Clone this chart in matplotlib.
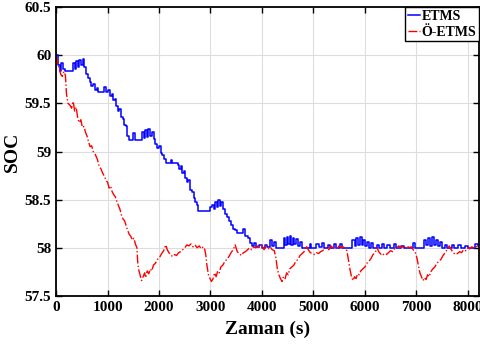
import matplotlib
matplotlib.use('Agg')
import matplotlib.pyplot as plt

plt.rcParams['font.family'] = ['Liberation Serif', 'DejaVu Serif']
plt.rcParams['font.weight'] = 'bold'

# ETMS (blue)
t_etms = [0, 40, 70, 100, 140, 180, 300, 330, 360, 390, 420, 450, 490, 520, 550, 580, 620, 650, 680, 720,
          750, 790, 820, 900, 930, 960, 1000, 1040, 1080, 1110, 1140, 1170, 1200, 1230, 1260, 1290, 1320, 1350, 1380, 1420,
          1470, 1500, 1540, 1640, 1670, 1700, 1730, 1760, 1790, 1820, 1860, 1900, 1930, 1960, 2000, 2030, 2060, 2090, 2130, 2200,
          2230, 2260, 2330, 2360, 2390, 2420, 2450, 2480, 2510, 2540, 2570, 2600, 2640, 2670, 2700, 2730, 2760, 2960, 2990, 3030,
          3060, 3090, 3120, 3150, 3180, 3210, 3240, 3280, 3320, 3360, 3400, 3440, 3480, 3520, 3600, 3640, 3680, 3720, 3760, 3800,
          3850, 3880, 3950, 4000, 4050, 4100, 4160, 4200, 4230, 4270, 4400, 4420, 4450, 4480, 4510, 4540, 4570, 4600, 4630, 4670,
          4700, 4740, 4780, 4900, 4930, 4960, 5030, 5060, 5100, 5160, 5200, 5280, 5320, 5400, 5440, 5520, 5560, 5720, 5760, 5800,
          5830, 5860, 5900, 5940, 5970, 6000, 6040, 6080, 6120, 6160, 6230, 6270, 6330, 6370, 6440, 6480, 6560, 6600, 6700, 6760,
          6900, 6940, 6980, 7100, 7150, 7190, 7220, 7260, 7300, 7340, 7380, 7420, 7460, 7500, 7560, 7600, 7700, 7740, 7820, 7860,
          7950, 8000, 8100, 8150, 8200, 8230]
soc_etms = [60.0, 59.9, 59.84, 59.92, 59.86, 59.84, 59.84, 59.92, 59.86, 59.94, 59.88, 59.95, 59.9, 59.96, 59.88, 59.8, 59.76, 59.72, 59.68, 59.7,
            59.64, 59.66, 59.62, 59.62, 59.67, 59.62, 59.64, 59.58, 59.6, 59.53, 59.55, 59.47, 59.42, 59.44, 59.36, 59.34, 59.28, 59.26, 59.16, 59.12,
            59.12, 59.19, 59.12, 59.12, 59.2, 59.14, 59.22, 59.15, 59.23, 59.16, 59.2, 59.13, 59.08, 59.04, 59.06, 58.98, 58.96, 58.92, 58.88, 58.88,
            58.91, 58.88, 58.88, 58.86, 58.82, 58.85, 58.78, 58.8, 58.73, 58.68, 58.7, 58.6, 58.58, 58.52, 58.48, 58.44, 58.38, 58.38, 58.42, 58.44,
            58.4, 58.48, 58.42, 58.5, 58.43, 58.48, 58.4, 58.35, 58.32, 58.28, 58.24, 58.2, 58.18, 58.15, 58.15, 58.2, 58.12, 58.1, 58.05, 58.02,
            58.05, 58.01, 58.03, 58.0, 58.03, 58.01, 58.08, 58.02, 58.06, 58.0, 58.0, 58.1, 58.03, 58.11, 58.04, 58.12, 58.03, 58.1, 58.04, 58.09,
            58.02, 58.06, 58.0, 58.0, 58.04, 58.0, 58.0, 58.04, 58.01, 58.05, 58.0, 58.03, 58.0, 58.04, 58.0, 58.04, 58.0, 58.0, 58.08, 58.02,
            58.1, 58.03, 58.11, 58.03, 58.08, 58.02, 58.06, 58.0, 58.05, 58.0, 58.03, 58.0, 58.04, 58.0, 58.03, 58.0, 58.04, 58.0, 58.02, 58.0,
            58.0, 58.05, 58.0, 58.0, 58.08, 58.03, 58.1, 58.02, 58.11, 58.03, 58.08, 58.02, 58.06, 58.0, 58.03, 58.0, 58.03, 58.0, 58.03, 58.0,
            58.02, 58.0, 58.0, 58.04, 58.02, 58.04]

# Ö-ETMS (red)
t_oetms = [0, 30, 60, 90, 120, 150, 180, 200, 230, 270, 300, 330, 360, 390, 420, 450, 480, 510, 540, 570,
           600, 630, 660, 690, 720, 760, 800, 840, 870, 900, 940, 970, 1000, 1030, 1060, 1090, 1120, 1150, 1180, 1210,
           1240, 1270, 1300, 1330, 1360, 1390, 1420, 1450, 1480, 1510, 1540, 1570, 1585, 1600, 1630, 1660, 1690, 1720, 1740, 1770,
           1800, 1830, 1860, 1890, 1930, 1970, 2010, 2050, 2090, 2130, 2160, 2190, 2220, 2260, 2300, 2340, 2380, 2420, 2460, 2500,
           2540, 2580, 2620, 2660, 2700, 2740, 2780, 2820, 2860, 2890, 2910, 2930, 2960, 2990, 3020, 3050, 3080, 3110, 3140, 3170,
           3200, 3240, 3280, 3320, 3360, 3400, 3440, 3480, 3520, 3560, 3600, 3640, 3680, 3720, 3760, 3800, 3840, 3880, 3920, 3960,
           4000, 4040, 4080, 4120, 4160, 4200, 4240, 4270, 4300, 4330, 4360, 4390, 4420, 4450, 4480, 4510, 4540, 4580, 4620, 4660,
           4700, 4740, 4780, 4820, 4860, 4900, 4940, 4980, 5020, 5060, 5100, 5140, 5180, 5220, 5260, 5300, 5340, 5380, 5420, 5460,
           5500, 5540, 5580, 5620, 5650, 5680, 5710, 5740, 5770, 5800, 5830, 5860, 5890, 5920, 5960, 6000, 6040, 6080, 6120, 6160,
           6200, 6240, 6270, 6300, 6340, 6380, 6420, 6460, 6500, 6540, 6580, 6620, 6660, 6700, 6740, 6780, 6820, 6860, 6900, 6940,
           6980, 7010, 7040, 7070, 7100, 7130, 7160, 7190, 7220, 7250, 7280, 7320, 7360, 7400, 7440, 7480, 7520, 7560, 7600, 7640,
           7680, 7720, 7760, 7800, 7840, 7880, 7920, 7960, 8000, 8040, 8080, 8120, 8160, 8200, 8230]
soc_oetms = [60.0, 59.92, 59.86, 59.8, 59.78, 59.83, 59.79, 59.6, 59.5, 59.48, 59.45, 59.52, 59.42, 59.46, 59.34, 59.3, 59.33, 59.25, 59.26, 59.2,
             59.16, 59.1, 59.05, 59.06, 59.0, 58.97, 58.92, 58.84, 58.82, 58.78, 58.74, 58.7, 58.68, 58.62, 58.64, 58.58, 58.55, 58.53, 58.48, 58.44,
             58.4, 58.34, 58.3, 58.28, 58.23, 58.18, 58.14, 58.12, 58.08, 58.1, 58.04, 58.0, 57.85, 57.78, 57.72, 57.66, 57.7, 57.74, 57.69, 57.76,
             57.73, 57.78, 57.76, 57.82, 57.84, 57.88, 57.9, 57.94, 57.97, 58.03, 57.98, 57.95, 57.93, 57.91, 57.93, 57.92, 57.95, 57.96, 57.98, 58.0,
             58.03, 58.02, 58.04, 58.01, 58.03, 58.0, 58.02, 57.99, 58.01, 57.98, 57.92, 57.82, 57.72, 57.68, 57.65, 57.68, 57.74, 57.7, 57.76, 57.74,
             57.8, 57.82, 57.86, 57.88, 57.91, 57.95, 57.98, 58.03, 57.96, 57.94, 57.92, 57.95, 57.96, 57.98, 58.0, 57.98, 58.01, 58.0, 58.02, 58.0,
             58.03, 57.98, 58.02, 57.99, 58.01, 57.98, 57.97, 57.9, 57.78, 57.72, 57.68, 57.65, 57.7, 57.68, 57.74, 57.72, 57.78, 57.8, 57.82, 57.86,
             57.88, 57.92, 57.94, 57.96, 58.02, 57.98, 57.95, 57.94, 57.93, 57.95, 57.94, 57.96, 57.97, 57.99, 58.0, 57.98, 58.02, 58.0, 58.01, 57.99,
             58.02, 58.0, 58.01, 57.99, 57.97, 57.88, 57.78, 57.7, 57.66, 57.7, 57.68, 57.73, 57.72, 57.76, 57.78, 57.8, 57.84, 57.86, 57.89, 57.93,
             57.95, 58.0, 57.96, 57.94, 57.92, 57.94, 57.93, 57.95, 57.97, 57.96, 57.99, 58.0, 58.02, 58.0, 58.01, 57.99, 58.02, 58.0, 58.01, 57.98,
             57.95, 57.9, 57.82, 57.74, 57.7, 57.66, 57.69, 57.67, 57.72, 57.7, 57.75, 57.78, 57.8, 57.84, 57.86, 57.88, 57.92, 57.95, 57.98, 58.02,
             57.98, 57.95, 57.93, 57.94, 57.96, 57.95, 57.98, 57.97, 58.0, 57.99, 58.01, 58.0, 58.02, 58.0, 58.01]

xticks = [0, 1000, 2000, 3000, 4000, 5000, 6000, 7000, 8000]
yticks = [57.5, 58, 58.5, 59, 59.5, 60, 60.5]
ytick_labels = ['57.5', '58', '58.5', '59', '59.5', '60', '60.5']

fig = plt.figure(figsize=(4.8, 3.54), dpi=100)
ax = fig.add_axes([0.117, 0.164, 0.881, 0.816])

ax.plot(t_etms, soc_etms, color='#0000ff', lw=1.1, drawstyle='steps-post', label='ETMS')
ax.plot(t_oetms, soc_oetms, color='#ff0000', lw=1.0, ls='-.', label='Ö-ETMS')

ax.set_xlim(0, 8220)
ax.set_ylim(57.5, 60.5)
ax.set_xticks(xticks)
ax.set_xticklabels([str(v) for v in xticks])
ax.set_yticks(yticks)
ax.set_yticklabels(ytick_labels)
ax.tick_params(direction='in', top=True, right=True, labelsize=11, length=4, width=1)
for lab in ax.get_xticklabels() + ax.get_yticklabels():
    lab.set_fontweight('bold')
ax.grid(True, color='#dddddd', lw=0.8)
ax.set_axisbelow(True)
for s in ax.spines.values():
    s.set_linewidth(1.3)

ax.set_xlabel('Zaman (s)', fontsize=14, fontweight='bold', labelpad=5)
ax.set_ylabel('SOC', fontsize=14, fontweight='bold', labelpad=3)

leg = ax.legend(loc='upper right', fontsize=10, handlelength=0.9, handletextpad=0.1,
                borderpad=0.2, borderaxespad=0.0, labelspacing=0.2, fancybox=False, framealpha=1)
leg.get_frame().set_edgecolor('black')
leg.get_frame().set_linewidth(1.0)
for txt in leg.get_texts():
    txt.set_fontweight('bold')

fig.savefig('out.png', dpi=100)
